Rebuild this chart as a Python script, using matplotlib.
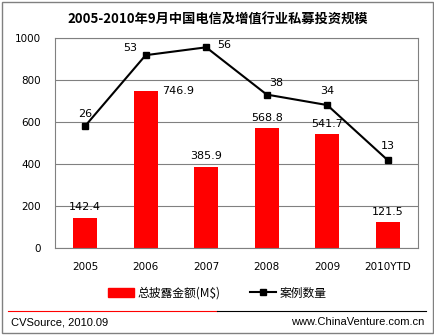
import matplotlib.pyplot as plt
from matplotlib.patches import Rectangle
from matplotlib.lines import Line2D

plt.rcParams['font.family'] = ['Noto Sans CJK SC', 'DejaVu Sans']

years = ['2005', '2006', '2007', '2008', '2009', '2010YTD']
amount = [142.4, 746.9, 385.9, 568.8, 541.7, 121.5]
cases = [26, 53, 56, 38, 34, 13]

# label offsets in points (dx, dy) for the line labels
case_offsets = [(0, 9), (-11, 5), (13, 2), (7, 8), (0, 10), (0, 10)]

fig = plt.figure(figsize=(4.35, 3.35), dpi=100)
ax = fig.add_axes([0.126, 0.26, 0.835, 0.627])
x = list(range(len(years)))

ax.bar(x, amount, width=0.4, color='#ff0000', zorder=2)
ax.set_ylim(0, 1000)
ax.set_xlim(-0.5, len(years) - 0.5)
ax.set_yticks([0, 200, 400, 600, 800, 1000])
ax.yaxis.grid(True, color='#808080', linewidth=0.8)
ax.set_axisbelow(True)
for s in ax.spines.values():
    s.set_color('#808080')
    s.set_linewidth(0.8)
ax.tick_params(length=0, labelsize=7.5, colors='#000000')
ax.tick_params(axis='y', pad=10)
ax.tick_params(axis='x', pad=10)
ax.set_xticks(x)
ax.set_xticklabels(years)
for lb in ax.get_xticklabels() + ax.get_yticklabels():
    lb.set_family('DejaVu Sans')

for i, v in enumerate(amount):
    if i == 1:
        ax.annotate(f'{v}', (i + 0.2, v), xytext=(3, 0), textcoords='offset points',
                    ha='left', va='center', fontsize=8, family='DejaVu Sans')
    else:
        ax.annotate(f'{v}', (i, v), xytext=(0, 4), textcoords='offset points',
                    ha='center', va='bottom', fontsize=8, family='DejaVu Sans')

ax2 = ax.twinx()
ax2.plot(x, cases, color='black', marker='s', markersize=5, linewidth=1.5, zorder=3)
ax2.set_ylim(-20.4, 59.6)
ax2.set_yticks([])
for s in ax2.spines.values():
    s.set_visible(False)
for i, v in enumerate(cases):
    dx, dy = case_offsets[i]
    ax2.annotate(str(v), (i, v), xytext=(dx, dy), textcoords='offset points',
                 ha='center', va='center', fontsize=8, family='DejaVu Sans')

fig.text(0.5, 0.94, '2005-2010年9月中国电信及增值行业私募投资规模', ha='center', va='center',
         fontsize=9.5, fontweight='bold')

handles = [Rectangle((0, 0), 1, 1, color='#ff0000'),
           Line2D([], [], color='black', marker='s', markersize=5, linewidth=1.5)]
fig.legend(handles, ['总披露金额(M$)', '案例数量'], loc='center', bbox_to_anchor=(0.5, 0.125),
           ncol=2, frameon=False, fontsize=8.5, handlelength=2.2, handletextpad=0.3,
           columnspacing=2.5)

# footer
fig.add_artist(Line2D([0.018, 0.5], [0.072, 0.072], color='#ff0000', linewidth=0.8))
fig.add_artist(Line2D([0.5, 0.98], [0.072, 0.072], color='black', linewidth=0.8))
fig.text(0.025, 0.038, 'CVSource, 2010.09', ha='left', va='center', fontsize=8,
         family='Liberation Sans')
fig.text(0.975, 0.038, 'www.ChinaVenture.com.cn', ha='right', va='center', fontsize=8,
         family='Liberation Sans')

fig.add_artist(Rectangle((0.004, 0.006), 0.991, 0.988, transform=fig.transFigure,
                         fill=False, edgecolor='#808080', linewidth=1))

fig.savefig('out.png', dpi=100)
